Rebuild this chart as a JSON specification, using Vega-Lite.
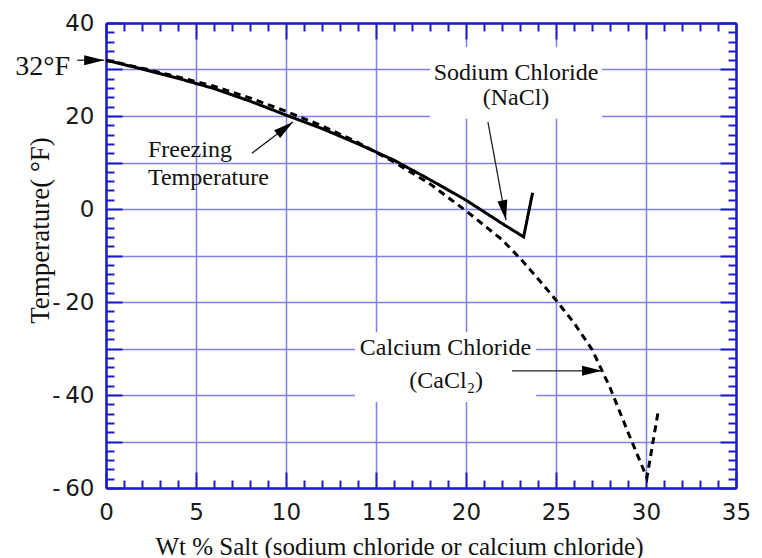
{
  "$schema": "https://vega.github.io/schema/vega-lite/v6.json",
  "width": 630,
  "height": 465,
  "autosize": {"type": "none"},
  "padding": {"left": 106, "top": 23, "right": 26, "bottom": 70},
  "background": "white",
  "config": {
    "view": {"stroke": null},
    "axis": {
      "labelFont": "DejaVu Sans",
      "labelFontSize": 23,
      "labelColor": "#1a1a1a",
      "labelFlush": false,
      "labelOverlap": false,
      "labelBound": false,
      "titleFont": "Liberation Serif",
      "titleFontWeight": "normal",
      "titleColor": "#111111",
      "domainColor": "#1c1cc8",
      "domainWidth": 2.5,
      "tickColor": "#1c1cc8",
      "tickWidth": 2,
      "gridColor": "#7f7ff0",
      "gridWidth": 1.5,
      "gridOpacity": 1
    }
  },
  "datasets": {
    "curves": [
      {"salt": "Sodium Chloride", "wt": 0, "temp": 32},
      {"salt": "Sodium Chloride", "wt": 2, "temp": 30.1},
      {"salt": "Sodium Chloride", "wt": 4, "temp": 28.1},
      {"salt": "Sodium Chloride", "wt": 6, "temp": 25.9},
      {"salt": "Sodium Chloride", "wt": 8, "temp": 23.2},
      {"salt": "Sodium Chloride", "wt": 10, "temp": 20.2},
      {"salt": "Sodium Chloride", "wt": 12, "temp": 17.3},
      {"salt": "Sodium Chloride", "wt": 14, "temp": 14.0},
      {"salt": "Sodium Chloride", "wt": 16, "temp": 10.5},
      {"salt": "Sodium Chloride", "wt": 18, "temp": 6.3},
      {"salt": "Sodium Chloride", "wt": 20, "temp": 1.9},
      {"salt": "Sodium Chloride", "wt": 22, "temp": -3.1},
      {"salt": "Sodium Chloride", "wt": 23.2, "temp": -6.0},
      {"salt": "Sodium Chloride", "wt": 23.7, "temp": 3.5},
      {"salt": "Calcium Chloride", "wt": 0, "temp": 32},
      {"salt": "Calcium Chloride", "wt": 2, "temp": 30.3},
      {"salt": "Calcium Chloride", "wt": 4, "temp": 28.4},
      {"salt": "Calcium Chloride", "wt": 6, "temp": 26.4},
      {"salt": "Calcium Chloride", "wt": 8, "temp": 23.9},
      {"salt": "Calcium Chloride", "wt": 10, "temp": 21.0},
      {"salt": "Calcium Chloride", "wt": 12, "temp": 17.9},
      {"salt": "Calcium Chloride", "wt": 14, "temp": 14.3},
      {"salt": "Calcium Chloride", "wt": 16, "temp": 10.1},
      {"salt": "Calcium Chloride", "wt": 18, "temp": 5.4},
      {"salt": "Calcium Chloride", "wt": 20, "temp": -0.4},
      {"salt": "Calcium Chloride", "wt": 22, "temp": -6.6},
      {"salt": "Calcium Chloride", "wt": 23, "temp": -10.6},
      {"salt": "Calcium Chloride", "wt": 24, "temp": -15.0},
      {"salt": "Calcium Chloride", "wt": 25, "temp": -19.6},
      {"salt": "Calcium Chloride", "wt": 26, "temp": -24.5},
      {"salt": "Calcium Chloride", "wt": 27, "temp": -30.2},
      {"salt": "Calcium Chloride", "wt": 28, "temp": -38.4},
      {"salt": "Calcium Chloride", "wt": 29, "temp": -48.0},
      {"salt": "Calcium Chloride", "wt": 30.05, "temp": -57.8},
      {"salt": "Calcium Chloride", "wt": 30.7, "temp": -43.0}
    ],
    "labelBoxes": [
      {"x": 18.0, "x2": 27.56, "y": 34.8, "y2": 19.4},
      {"x": 13.83, "x2": 23.9, "y": -26.5, "y2": -41.5}
    ],
    "arrows": [
      {"x": -1.6, "y": 32, "x2": -0.1, "y2": 32},
      {"x": 8.11, "y": 12.0, "x2": 10.39, "y2": 18.7},
      {"x": 21.22, "y": 18.7, "x2": 22.22, "y2": -2.4},
      {"x": 22.56, "y": -34.8, "x2": 27.56, "y2": -34.8}
    ],
    "centerLabels": [
      {"text": "Sodium Chloride", "x": 22.78, "y": 27.7},
      {"text": "(NaCl)", "x": 22.78, "y": 22.4},
      {"text": "Calcium Chloride", "x": 18.86, "y": -31.4},
      {"text": "(CaCl₂)", "x": 18.9, "y": -38.5}
    ],
    "leftLabels": [
      {"text": "Freezing", "x": 2.33, "y": 11.2},
      {"text": "Temperature", "x": 2.33, "y": 5.2}
    ],
    "edgeLabels": [
      {"text": "32°F", "x": -2.0, "y": 28.8}
    ]
  },
  "layer": [
    {
      "data": {"name": "labelBoxes"},
      "mark": {"type": "rect", "fill": "white", "stroke": null},
      "encoding": {
        "x": {
          "field": "x", "type": "quantitative",
          "scale": {"domain": [0, 35], "nice": false, "zero": false},
          "axis": {
            "orient": "bottom",
            "values": [0, 5, 10, 15, 20, 25, 30, 35],
            "tickSize": -16,
            "labelPadding": 29,
            "grid": true,
            "title": "Wt % Salt (sodium chloride or calcium chloride)",
            "titleFontSize": 25,
            "titleX": 293,
            "titleY": 66,
            "titleBaseline": "alphabetic"
          }
        },
        "x2": {"field": "x2"},
        "y": {
          "field": "y", "type": "quantitative",
          "scale": {"domain": [-60, 40], "nice": false, "zero": false},
          "axis": {
            "orient": "left",
            "values": [-60, -50, -40, -30, -20, -10, 0, 10, 20, 30, 40],
            "tickSize": -16,
            "labelPadding": 28,
            "labelBaseline": "middle",
            "labelExpr": "datum.value % 20 !== 0 ? '' : (datum.value < 0 ? '-\u2009' + abs(datum.value) : '' + datum.value)",
            "grid": true,
            "title": "Temperature( °F)",
            "titleFontSize": 27,
            "titleAngle": 270,
            "titleX": -58,
            "titleY": 207,
            "titleBaseline": "alphabetic"
          }
        },
        "y2": {"field": "y2"}
      }
    },
    {
      "data": {"name": "curves"},
      "mark": {"type": "line", "color": "black", "strokeWidth": 3, "strokeCap": "butt"},
      "encoding": {
        "x": {
          "field": "wt", "type": "quantitative",
          "scale": {"domain": [0, 35], "nice": false, "zero": false},
          "axis": {
            "orient": "bottom",
            "values": [1, 2, 3, 4, 6, 7, 8, 9, 11, 12, 13, 14, 16, 17, 18, 19, 21, 22, 23, 24, 26, 27, 28, 29, 31, 32, 33, 34],
            "tickSize": -8,
            "labels": false,
            "grid": false,
            "domain": false,
            "title": null
          }
        },
        "y": {
          "field": "temp", "type": "quantitative",
          "scale": {"domain": [-60, 40], "nice": false, "zero": false},
          "axis": {
            "orient": "left",
            "values": [-58, -56, -54, -52, -48, -46, -44, -42, -38, -36, -34, -32, -28, -26, -24, -22, -18, -16, -14, -12, -8, -6, -4, -2, 2, 4, 6, 8, 12, 14, 16, 18, 22, 24, 26, 28, 32, 34, 36, 38],
            "tickSize": -8,
            "labels": false,
            "grid": false,
            "domain": false,
            "title": null
          }
        },
        "detail": {"field": "salt", "type": "nominal"},
        "strokeDash": {
          "field": "salt", "type": "nominal",
          "scale": {"domain": ["Sodium Chloride", "Calcium Chloride"], "range": [[1, 0], [7, 5]]},
          "legend": null
        }
      }
    },
    {
      "data": {"name": "arrows"},
      "mark": {"type": "rule", "color": "#222222", "strokeWidth": 1.3},
      "encoding": {
        "x": {
          "field": "x", "type": "quantitative",
          "scale": {"domain": [0, 35], "nice": false, "zero": false},
          "axis": {
            "orient": "top",
            "values": [0, 5, 10, 15, 20, 25, 30, 35],
            "tickSize": -16,
            "labels": false,
            "grid": false,
            "title": null
          }
        },
        "x2": {"field": "x2"},
        "y": {
          "field": "y", "type": "quantitative",
          "scale": {"domain": [-60, 40], "nice": false, "zero": false},
          "axis": {
            "orient": "right",
            "values": [-60, -50, -40, -30, -20, -10, 0, 10, 20, 30, 40],
            "tickSize": -16,
            "labels": false,
            "grid": false,
            "title": null
          }
        },
        "y2": {"field": "y2"}
      }
    },
    {
      "data": {"name": "arrows"},
      "transform": [
        {"calculate": "atan2((datum.x2 - datum.x) * 18, (datum.y2 - datum.y) * 4.65) * 180 / PI", "as": "heading"}
      ],
      "mark": {"type": "point", "shape": "M0,0L0.5,2L-0.5,2Z", "filled": true, "size": 400, "color": "black", "opacity": 1},
      "encoding": {
        "x": {
          "field": "x2", "type": "quantitative",
          "scale": {"domain": [0, 35], "nice": false, "zero": false},
          "axis": {
            "orient": "top",
            "values": [1, 2, 3, 4, 6, 7, 8, 9, 11, 12, 13, 14, 16, 17, 18, 19, 21, 22, 23, 24, 26, 27, 28, 29, 31, 32, 33, 34],
            "tickSize": -8,
            "labels": false,
            "grid": false,
            "domain": false,
            "title": null
          }
        },
        "y": {
          "field": "y2", "type": "quantitative",
          "scale": {"domain": [-60, 40], "nice": false, "zero": false},
          "axis": {
            "orient": "right",
            "values": [-58, -56, -54, -52, -48, -46, -44, -42, -38, -36, -34, -32, -28, -26, -24, -22, -18, -16, -14, -12, -8, -6, -4, -2, 2, 4, 6, 8, 12, 14, 16, 18, 22, 24, 26, 28, 32, 34, 36, 38],
            "tickSize": -8,
            "labels": false,
            "grid": false,
            "domain": false,
            "title": null
          }
        },
        "angle": {"field": "heading", "type": "quantitative", "scale": null}
      }
    },
    {
      "data": {"name": "centerLabels"},
      "mark": {"type": "text", "font": "Liberation Serif", "fontSize": 24, "color": "#111111", "align": "center", "baseline": "alphabetic"},
      "encoding": {
        "x": {"field": "x", "type": "quantitative", "scale": {"domain": [0, 35], "nice": false, "zero": false}, "axis": null},
        "y": {"field": "y", "type": "quantitative", "scale": {"domain": [-60, 40], "nice": false, "zero": false}, "axis": null},
        "text": {"field": "text"}
      }
    },
    {
      "data": {"name": "leftLabels"},
      "mark": {"type": "text", "font": "Liberation Serif", "fontSize": 24, "color": "#111111", "align": "left", "baseline": "alphabetic"},
      "encoding": {
        "x": {"field": "x", "type": "quantitative", "scale": {"domain": [0, 35], "nice": false, "zero": false}, "axis": null},
        "y": {"field": "y", "type": "quantitative", "scale": {"domain": [-60, 40], "nice": false, "zero": false}, "axis": null},
        "text": {"field": "text"}
      }
    },
    {
      "data": {"name": "edgeLabels"},
      "mark": {"type": "text", "font": "Liberation Serif", "fontSize": 28, "color": "#111111", "align": "right", "baseline": "alphabetic"},
      "encoding": {
        "x": {"field": "x", "type": "quantitative", "scale": {"domain": [0, 35], "nice": false, "zero": false}, "axis": null},
        "y": {"field": "y", "type": "quantitative", "scale": {"domain": [-60, 40], "nice": false, "zero": false}, "axis": null},
        "text": {"field": "text"}
      }
    }
  ],
  "resolve": {"axis": {"x": "independent", "y": "independent"}}
}
